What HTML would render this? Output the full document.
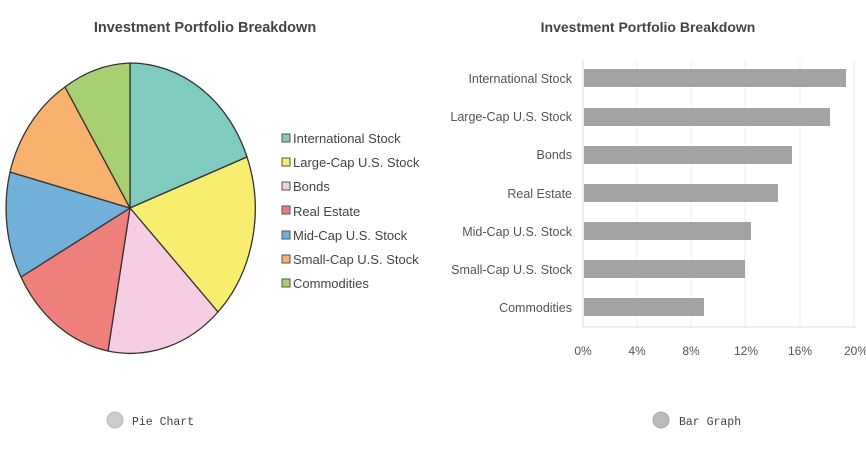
<!DOCTYPE html>
<html><head><meta charset="utf-8"><style>
body{margin:0;background:#fff;}
svg text{font-family:"Liberation Sans",sans-serif;}
</style></head><body>
<svg width="866" height="446" viewBox="0 0 866 446" xmlns="http://www.w3.org/2000/svg">
<rect width="866" height="446" fill="#fff"/>
<text x="205" y="32" font-size="14.5" font-weight="bold" fill="#444" text-anchor="middle">Investment Portfolio Breakdown</text>
<text x="648" y="32" font-size="14" font-weight="bold" fill="#444" text-anchor="middle">Investment Portfolio Breakdown</text>
<g stroke="#333" stroke-width="1.3" stroke-linejoin="round">
<path d="M130 208 L130 63 A125 145 0 0 1 247 157 Z" fill="#7fcbc0"/>
<path d="M130 208 L247 157 A125 145 0 0 1 218 312 Z" fill="#f7ee70"/>
<path d="M130 208 L218 312 A125 145 0 0 1 108 351 Z" fill="#f6cde2"/>
<path d="M130 208 L108 351 A125 145 0 0 1 21 277 Z" fill="#ef7f7b"/>
<path d="M130 208 L21 277 A125 145 0 0 1 10 172 Z" fill="#71b1d9"/>
<path d="M130 208 L10 172 A125 145 0 0 1 65 87 Z" fill="#f9b26e"/>
<path d="M130 208 L65 87 A125 145 0 0 1 130 63 Z" fill="#a8cf72"/>
</g>
<g font-size="13" fill="#444" stroke-width="1">
<rect x="282" y="134" width="8" height="8" fill="#7fcbc0" stroke="#555"/><text x="293" y="143">International Stock</text>
<rect x="282" y="158" width="8" height="8" fill="#f7ee70" stroke="#555"/><text x="293" y="167">Large-Cap U.S. Stock</text>
<rect x="282" y="182" width="8" height="8" fill="#f6cde2" stroke="#555"/><text x="293" y="191">Bonds</text>
<rect x="282" y="206" width="8" height="8" fill="#ef7f7b" stroke="#555"/><text x="293" y="216">Real Estate</text>
<rect x="282" y="231" width="8" height="8" fill="#71b1d9" stroke="#555"/><text x="293" y="240">Mid-Cap U.S. Stock</text>
<rect x="282" y="255" width="8" height="8" fill="#f9b26e" stroke="#555"/><text x="293" y="264">Small-Cap U.S. Stock</text>
<rect x="282" y="279" width="8" height="8" fill="#a8cf72" stroke="#555"/><text x="293" y="288">Commodities</text>
</g>
<g stroke="#eee" stroke-width="1">
<line x1="637" y1="60" x2="637" y2="327"/><line x1="691" y1="60" x2="691" y2="327"/><line x1="745" y1="60" x2="745" y2="327"/><line x1="800" y1="60" x2="800" y2="327"/><line x1="854" y1="60" x2="854" y2="327"/>
</g>
<line x1="583" y1="60" x2="583" y2="327" stroke="#ddd"/>
<line x1="583" y1="327" x2="856" y2="327" stroke="#ddd"/>
<g fill="#a3a3a3">
<rect x="584" y="69" width="262" height="18"/>
<rect x="584" y="108" width="246" height="18"/>
<rect x="584" y="146" width="208" height="18"/>
<rect x="584" y="184" width="194" height="18"/>
<rect x="584" y="222" width="167" height="18"/>
<rect x="584" y="260" width="161" height="18"/>
<rect x="584" y="298" width="120" height="18"/>
</g>
<g font-size="12.5" fill="#555" text-anchor="end">
<text x="572" y="83">International Stock</text>
<text x="572" y="121">Large-Cap U.S. Stock</text>
<text x="572" y="159">Bonds</text>
<text x="572" y="198">Real Estate</text>
<text x="572" y="236">Mid-Cap U.S. Stock</text>
<text x="572" y="274">Small-Cap U.S. Stock</text>
<text x="572" y="312">Commodities</text>
</g>
<g font-size="12" fill="#555" text-anchor="middle">
<text x="583" y="355">0%</text><text x="637" y="355">4%</text><text x="691" y="355">8%</text><text x="746" y="355">12%</text><text x="800" y="355">16%</text><text x="856" y="355">20%</text>
</g>
<circle cx="115" cy="420" r="8" fill="#ccc" stroke="#bbb"/>
<text x="132" y="425" font-size="11.5" fill="#444" style="font-family:'Liberation Mono',monospace">Pie Chart</text>
<circle cx="661" cy="420" r="8" fill="#bbb" stroke="#aaa"/>
<text x="679" y="425" font-size="11.5" fill="#444" style="font-family:'Liberation Mono',monospace">Bar Graph</text>
</svg>
</body></html>
